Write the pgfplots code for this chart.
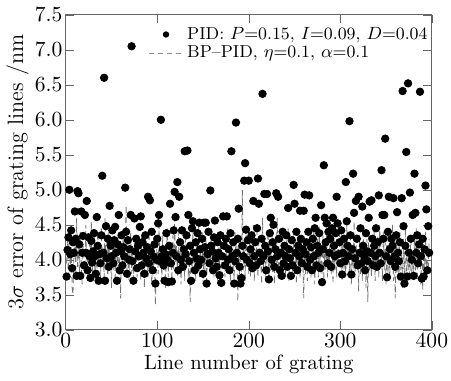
\documentclass[border=0pt]{standalone}
\usepackage{pgfplots}
\usepackage{pgfplotstable}
\pgfplotsset{compat=1.18}

\pgfplotstableread[row sep=\\]{
y\\
3.76\\ 4.14\\ 4.32\\ 5.00\\ 4.08\\ 4.42\\ 3.88\\ 4.25\\ 4.10\\ 4.69\\ 4.30\\ 3.77\\ 4.98\\ 4.95\\ 4.22\\ 3.77\\ 4.69\\ 4.10\\ 4.34\\ 3.92\\
4.64\\ 4.10\\ 4.84\\ 3.85\\ 4.32\\ 4.05\\ 3.74\\ 4.27\\ 3.96\\ 4.12\\ 4.38\\ 4.05\\ 3.80\\ 4.61\\ 4.20\\ 3.70\\ 4.08\\ 3.95\\ 4.35\\ 5.20\\
4.10\\ 6.60\\ 3.70\\ 4.48\\ 4.02\\ 4.30\\ 3.90\\ 4.77\\ 4.20\\ 4.05\\ 4.42\\ 3.95\\ 4.28\\ 4.47\\ 4.10\\ 3.70\\ 4.22\\ 4.64\\ 3.85\\ 4.12\\
4.35\\ 3.92\\ 4.18\\ 4.05\\ 5.03\\ 4.40\\ 3.80\\ 4.28\\ 4.00\\ 4.15\\ 4.64\\ 7.05\\ 3.98\\ 3.70\\ 4.59\\ 4.12\\ 4.30\\ 3.88\\ 4.20\\ 4.05\\
4.47\\ 4.62\\ 3.92\\ 4.25\\ 4.10\\ 3.80\\ 4.35\\ 4.02\\ 4.18\\ 4.90\\ 3.95\\ 4.85\\ 4.12\\ 4.40\\ 3.85\\ 4.05\\ 4.22\\ 3.66\\ 4.00\\ 4.30\\
4.52\\ 4.64\\ 3.98\\ 6.00\\ 4.05\\ 4.15\\ 3.92\\ 3.70\\ 4.08\\ 4.38\\ 4.00\\ 3.68\\ 4.20\\ 4.80\\ 3.95\\ 3.69\\ 4.10\\ 4.42\\ 4.97\\ 4.61\\
4.05\\ 5.11\\ 3.85\\ 4.90\\ 4.25\\ 4.00\\ 4.42\\ 3.90\\ 4.15\\ 5.55\\ 4.08\\ 4.35\\ 5.56\\ 4.64\\ 3.98\\ 4.20\\ 3.70\\ 4.45\\ 4.55\\ 4.10\\
3.85\\ 4.25\\ 4.02\\ 4.38\\ 3.92\\ 4.53\\ 4.15\\ 4.00\\ 4.30\\ 3.80\\ 4.53\\ 4.18\\ 4.53\\ 3.66\\ 4.08\\ 4.40\\ 3.95\\ 4.99\\ 4.20\\ 4.12\\
3.85\\ 4.32\\ 4.56\\ 4.02\\ 3.90\\ 4.25\\ 4.10\\ 3.78\\ 4.35\\ 3.67\\ 4.05\\ 4.62\\ 4.20\\ 3.92\\ 4.30\\ 4.62\\ 4.00\\ 4.15\\ 3.85\\ 4.38\\
5.55\\ 4.05\\ 4.25\\ 3.66\\ 3.98\\ 5.96\\ 4.10\\ 4.30\\ 4.73\\ 3.90\\ 3.66\\ 3.74\\ 4.20\\ 4.05\\ 5.13\\ 5.38\\ 4.43\\ 4.00\\ 4.28\\ 5.13\\
3.95\\ 4.15\\ 4.35\\ 3.88\\ 4.84\\ 4.05\\ 4.25\\ 3.92\\ 4.45\\ 5.16\\ 4.80\\ 4.10\\ 3.98\\ 4.30\\ 6.37\\ 4.05\\ 4.94\\ 4.20\\ 3.85\\ 4.94\\
4.12\\ 3.72\\ 4.38\\ 4.60\\ 4.00\\ 4.25\\ 4.50\\ 3.90\\ 4.15\\ 4.95\\ 4.05\\ 4.90\\ 4.30\\ 3.85\\ 4.10\\ 3.77\\ 4.40\\ 3.95\\ 4.20\\ 4.05\\
4.35\\ 3.90\\ 4.74\\ 4.15\\ 4.02\\ 3.77\\ 4.28\\ 3.92\\ 5.07\\ 4.80\\ 4.10\\ 4.40\\ 3.85\\ 4.20\\ 4.05\\ 4.70\\ 4.30\\ 3.95\\ 4.15\\ 4.70\\
4.93\\ 4.08\\ 4.25\\ 3.90\\ 4.40\\ 4.92\\ 4.00\\ 4.18\\ 3.85\\ 4.30\\ 4.05\\ 4.45\\ 4.60\\ 3.92\\ 4.20\\ 4.10\\ 4.38\\ 3.88\\ 4.78\\ 3.68\\
4.15\\ 5.35\\ 4.60\\ 4.25\\ 4.52\\ 3.95\\ 4.40\\ 4.10\\ 4.30\\ 3.90\\ 4.45\\ 4.60\\ 4.20\\ 4.05\\ 4.38\\ 4.90\\ 4.52\\ 4.08\\ 4.25\\ 3.95\\
4.42\\ 3.79\\ 4.10\\ 4.30\\ 3.98\\ 5.11\\ 4.55\\ 4.20\\ 4.05\\ 5.98\\ 4.35\\ 3.79\\ 4.15\\ 5.23\\ 4.67\\ 4.02\\ 4.84\\ 4.30\\ 3.92\\ 4.90\\
4.10\\ 4.45\\ 3.95\\ 4.76\\ 4.20\\ 4.05\\ 3.85\\ 4.38\\ 4.12\\ 3.98\\ 4.60\\ 4.83\\ 4.10\\ 4.85\\ 4.30\\ 3.92\\ 4.20\\ 4.05\\ 4.45\\ 3.90\\
4.25\\ 4.92\\ 4.10\\ 3.95\\ 5.28\\ 4.64\\ 4.30\\ 4.64\\ 5.73\\ 4.05\\ 3.75\\ 4.40\\ 4.90\\ 4.15\\ 3.98\\ 4.30\\ 4.20\\ 4.88\\ 4.05\\ 3.90\\
4.35\\ 4.68\\ 4.10\\ 3.98\\ 4.25\\ 3.76\\ 4.88\\ 6.41\\ 4.48\\ 3.66\\ 4.20\\ 5.54\\ 3.76\\ 6.52\\ 4.10\\ 4.96\\ 4.30\\ 4.00\\ 4.64\\ 3.77\\
5.23\\ 4.67\\ 4.10\\ 4.35\\ 3.95\\ 4.22\\ 6.40\\ 4.05\\ 3.73\\ 4.30\\ 3.76\\ 4.15\\ 5.06\\ 4.72\\ 3.85\\ 4.48\\ 4.10\\
}\pidraw

\pgfplotstableread[row sep=\\]{
y\\
3.95\\ 4.30\\ 3.70\\ 4.45\\ 3.85\\ 4.20\\ 3.60\\ 3.50\\ 4.10\\ 4.35\\ 3.80\\ 4.60\\ 3.90\\ 4.25\\ 3.75\\ 4.40\\ 3.95\\ 3.65\\ 4.20\\ 4.05\\
3.80\\ 4.50\\ 3.90\\ 4.15\\ 3.70\\ 4.30\\ 3.85\\ 4.55\\ 3.75\\ 4.10\\ 4.35\\ 3.80\\ 4.05\\ 3.65\\ 4.40\\ 3.90\\ 4.20\\ 3.70\\ 4.45\\ 3.95\\
4.15\\ 3.75\\ 4.60\\ 3.85\\ 4.25\\ 3.70\\ 4.40\\ 3.95\\ 4.10\\ 3.60\\ 4.30\\ 3.85\\ 4.50\\ 3.75\\ 4.20\\ 3.90\\ 4.35\\ 3.70\\ 4.05\\ 3.45\\
4.25\\ 3.80\\ 4.45\\ 3.90\\ 4.15\\ 4.78\\ 3.85\\ 4.30\\ 3.70\\ 4.10\\ 4.40\\ 3.80\\ 4.20\\ 3.65\\ 4.35\\ 3.95\\ 4.10\\ 3.75\\ 4.45\\ 3.90\\
4.20\\ 3.70\\ 4.35\\ 3.85\\ 4.05\\ 3.60\\ 4.30\\ 3.90\\ 4.15\\ 3.75\\ 4.40\\ 3.85\\ 4.10\\ 3.65\\ 4.25\\ 3.80\\ 4.05\\ 3.35\\ 3.95\\ 4.30\\
3.80\\ 4.50\\ 3.90\\ 4.15\\ 3.70\\ 4.35\\ 3.85\\ 4.20\\ 3.60\\ 4.05\\ 4.45\\ 3.75\\ 4.25\\ 3.90\\ 4.10\\ 3.70\\ 4.35\\ 3.85\\ 4.60\\ 3.95\\
4.20\\ 3.75\\ 4.40\\ 3.90\\ 4.15\\ 3.65\\ 4.30\\ 3.85\\ 4.05\\ 3.70\\ 4.45\\ 3.90\\ 4.20\\ 3.75\\ 4.10\\ 3.40\\ 4.25\\ 3.85\\ 4.40\\ 3.95\\
4.10\\ 3.70\\ 4.30\\ 3.85\\ 4.55\\ 3.75\\ 4.20\\ 3.90\\ 4.40\\ 3.65\\ 4.15\\ 3.85\\ 4.35\\ 3.70\\ 4.05\\ 3.95\\ 4.25\\ 3.80\\ 4.45\\ 3.90\\
4.15\\ 3.75\\ 4.30\\ 3.85\\ 4.10\\ 3.65\\ 4.40\\ 3.90\\ 4.20\\ 3.70\\ 4.35\\ 3.85\\ 4.05\\ 3.75\\ 4.25\\ 3.90\\ 4.45\\ 3.80\\ 4.10\\ 3.70\\
4.30\\ 3.85\\ 4.15\\ 3.65\\ 4.40\\ 3.90\\ 4.20\\ 3.40\\ 4.35\\ 3.80\\ 4.10\\ 3.75\\ 5.00\\ 3.85\\ 4.25\\ 3.70\\ 4.45\\ 3.90\\ 4.15\\ 3.80\\
4.35\\ 3.75\\ 4.20\\ 3.90\\ 4.50\\ 3.70\\ 4.15\\ 3.85\\ 4.40\\ 3.75\\ 4.25\\ 3.90\\ 4.05\\ 3.65\\ 4.60\\ 3.85\\ 4.30\\ 3.75\\ 4.10\\ 3.95\\
4.40\\ 3.70\\ 4.25\\ 3.85\\ 4.55\\ 3.80\\ 4.15\\ 3.65\\ 4.35\\ 3.90\\ 4.60\\ 3.75\\ 4.20\\ 3.85\\ 4.05\\ 3.70\\ 4.40\\ 3.90\\ 4.15\\ 3.75\\
4.30\\ 3.85\\ 4.45\\ 3.70\\ 4.20\\ 3.90\\ 4.10\\ 3.75\\ 4.35\\ 3.80\\ 4.25\\ 3.65\\ 4.40\\ 3.85\\ 4.15\\ 3.75\\ 4.30\\ 3.90\\ 4.05\\ 3.45\\
4.25\\ 3.80\\ 4.40\\ 3.70\\ 4.15\\ 3.85\\ 4.35\\ 3.75\\ 4.20\\ 3.90\\ 4.45\\ 3.65\\ 4.10\\ 3.85\\ 4.30\\ 3.75\\ 4.50\\ 3.90\\ 4.15\\ 3.80\\
4.35\\ 3.70\\ 4.20\\ 3.85\\ 4.40\\ 3.75\\ 4.10\\ 3.90\\ 4.55\\ 3.80\\ 4.25\\ 3.65\\ 4.40\\ 3.85\\ 4.15\\ 3.75\\ 4.30\\ 3.90\\ 4.45\\ 3.80\\
4.20\\ 3.70\\ 4.35\\ 3.85\\ 4.10\\ 3.75\\ 4.50\\ 3.90\\ 4.25\\ 3.80\\ 4.40\\ 3.65\\ 4.15\\ 3.85\\ 4.55\\ 3.75\\ 4.30\\ 3.90\\ 4.10\\ 3.55\\
4.35\\ 3.80\\ 4.20\\ 3.70\\ 4.45\\ 3.85\\ 4.15\\ 3.60\\ 4.30\\ 3.40\\ 4.40\\ 3.85\\ 4.10\\ 3.75\\ 4.25\\ 3.90\\ 4.45\\ 3.70\\ 4.20\\ 3.85\\
4.35\\ 3.75\\ 4.50\\ 3.90\\ 4.15\\ 3.70\\ 4.40\\ 3.85\\ 4.25\\ 3.65\\ 4.45\\ 3.80\\ 4.10\\ 3.75\\ 4.30\\ 3.90\\ 4.50\\ 3.70\\ 4.15\\ 3.45\\
4.35\\ 3.80\\ 4.20\\ 3.70\\ 4.40\\ 3.85\\ 4.15\\ 3.60\\ 4.30\\ 3.75\\ 4.45\\ 3.65\\ 4.20\\ 3.85\\ 4.05\\ 3.70\\ 4.35\\ 3.80\\ 4.10\\ 3.75\\
4.30\\ 3.85\\ 4.45\\ 3.70\\ 4.20\\ 3.90\\ 4.10\\ 3.65\\ 4.35\\ 3.55\\ 4.25\\ 3.80\\ 4.40\\ 3.75\\ 4.15\\ 3.85\\ 4.30\\
}\bpraw

\begin{document}
\begin{tikzpicture}
\begin{axis}[
  scale only axis,
  width=186pt, height=160pt,
  xmin=0, xmax=400, ymin=3, ymax=7.5,
  xtick={0,100,...,400},
  ytick={3,3.5,...,7.5},
  yticklabel style={/pgf/number format/.cd,fixed,fixed zerofill,precision=1},
  tick label style={inner sep=1.5pt, font=\fontsize{10.5}{12}\selectfont},
  axis line style={draw=black!60},
  tick style={draw=black!60},
  tick align=inside,
  xlabel={Line number of grating},
  ylabel={3$\sigma$ error of grating lines /nm},
  xlabel style={font=\fontsize{10.5}{12}\selectfont, yshift=1pt},
  ylabel style={font=\fontsize{11.3}{13}\selectfont, yshift=-2pt},
  legend style={at={(1,1)}, anchor=north east, draw=none, fill=none,
    inner xsep=0pt, yshift=-2pt, font=\fontsize{8.8}{10}\selectfont, row sep=-2pt},
  legend cell align=left,
]
\addplot[forget plot, black!55, line width=0.4pt, dash pattern=on 3pt off 2pt]
  table[x expr=\coordindex+1, y=y] {\bpraw};
\addplot[only marks, mark=*, mark size=1.9pt, black, legend image post style={mark size=1.4pt}]
  table[x expr=\coordindex+1, y=y] {\pidraw};
\addlegendentry{PID: $P$=0.15, $I$=0.09, $D$=0.04}
\addlegendimage{black!45, line width=0.4pt, dash pattern=on 2.5pt off 2pt}
\addlegendentry{BP--PID, $\eta$=0.1, $\alpha$=0.1}
\end{axis}
\path ([yshift=7.5pt]current axis.north);
\end{tikzpicture}
\end{document}
